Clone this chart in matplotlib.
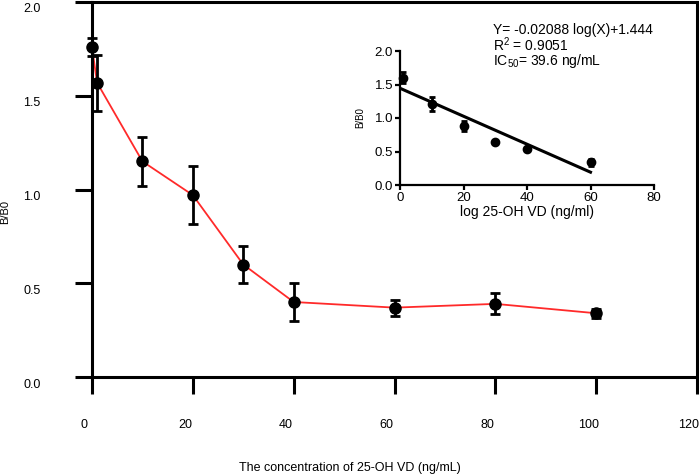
import matplotlib
matplotlib.use("Agg")
import matplotlib.pyplot as plt
import matplotlib.transforms as mtransforms
import numpy as np

plt.rcParams['font.family'] = ['Liberation Sans', 'DejaVu Sans']
plt.rcParams['mathtext.fontset'] = 'custom'
plt.rcParams['mathtext.rm'] = 'Liberation Sans'

# main curve: B/B0 vs concentration of 25-OH VD
conc = [0, 1, 10, 20, 30, 40, 60, 80, 100]
bb0 = [1.76, 1.57, 1.15, 0.97, 0.60, 0.40, 0.37, 0.39, 0.34]
bb0_err = [0.05, 0.15, 0.13, 0.155, 0.10, 0.10, 0.043, 0.056, 0.025]

# inset: linear part with fit
ins_x = [1, 10, 20, 30, 40, 60]
ins_y = [1.60, 1.21, 0.88, 0.64, 0.54, 0.34]
ins_err = [0.08, 0.11, 0.08, 0.03, 0.03, 0.05]
fit_slope = -0.02088
fit_icpt = 1.444
fit_range = [0, 60]

main_xticks = [0, 20, 40, 60, 80, 100, 120]
main_yticks = [0.0, 0.5, 1.0, 1.5, 2.0]
ins_xticks = [0, 20, 40, 60, 80]
ins_yticks = [0.0, 0.5, 1.0, 1.5, 2.0]

fit_lines = ['Y= -0.02088 log(X)+1.444', r'R$^2$ = 0.9051', r'IC$_{50}$= 39.6 ng/mL']

W, H = 699, 475
fig = plt.figure(figsize=(W / 100, H / 100), dpi=100)

# ---- main axes ----
ax = fig.add_axes([92 / W, 1 - 377 / H, (697 - 92) / W, (377 - 2) / H])
ax.plot(conc, bb0, color='#ff2a2a', lw=1.3, zorder=2, clip_on=False)
ax.errorbar(conc, bb0, yerr=bb0_err, fmt='o', color='black', ms=8,
            elinewidth=2.0, capsize=3.5, capthick=2.0, zorder=3, clip_on=False)
ax.set_xlim(0, 120)
ax.set_ylim(0, 2.0)
ax.set_xticks(main_xticks)
ax.set_yticks(main_yticks)
ax.set_xticklabels([str(t) for t in main_xticks])
ax.set_yticklabels([f"{t:.1f}" for t in main_yticks])
for sp in ax.spines.values():
    sp.set_linewidth(2.2)
ax.tick_params(axis='both', direction='out', length=12, width=2.2, labelsize=9)
ax.tick_params(axis='y', pad=25)
ax.tick_params(axis='x', pad=18)

# labels sit a bit off their ticks in the original
dx = mtransforms.ScaledTranslation(-0.08, 0, fig.dpi_scale_trans)
for lab in ax.get_xticklabels():
    lab.set_transform(lab.get_transform() + dx)
dy = mtransforms.ScaledTranslation(0, -0.06, fig.dpi_scale_trans)
for lab in ax.get_yticklabels():
    lab.set_transform(lab.get_transform() + dy)

fig.text(0.5, 1 - 468 / H, 'The concentration of 25-OH VD (ng/mL)',
         ha='center', va='center', fontsize=9)
fig.text(5 / W, 1 - 212 / H, 'B/B0', rotation=90, ha='center', va='center', fontsize=8)

# ---- inset ----
ins = fig.add_axes([400 / W, 1 - 185 / H, (654 - 400) / W, (185 - 51) / H])
xf = np.array(fit_range)
ins.plot(xf, fit_slope * xf + fit_icpt, color='black', lw=2.2, zorder=2)
ins.errorbar(ins_x, ins_y, yerr=ins_err, fmt='o', color='black', ms=6,
             elinewidth=2.0, capsize=2.5, capthick=2.0, zorder=3, clip_on=False)
ins.set_xlim(0, 80)
ins.set_ylim(0, 2.0)
ins.set_xticks(ins_xticks)
ins.set_yticks(ins_yticks)
ins.set_yticklabels([f"{t:.1f}" for t in ins_yticks])
ins.spines['top'].set_visible(False)
ins.spines['right'].set_visible(False)
for sp in ('left', 'bottom'):
    ins.spines[sp].set_linewidth(1.6)
ins.tick_params(axis='both', direction='out', length=3.5, width=1.6,
                labelsize=9.5, pad=1.5)
ins.set_xlabel('log 25-OH VD (ng/ml)', fontsize=10, labelpad=1)
fig.text(360 / W, 1 - 118 / H, 'B/B0', rotation=90, ha='center', va='center', fontsize=7)

# fit equation block, one text so the tight lines stay together
fig.text(493 / W, 1 - 23 / H, '\n'.join(fit_lines), ha='left', va='top',
         fontsize=10, linespacing=0.88)

fig.savefig('out.png', dpi=100)
